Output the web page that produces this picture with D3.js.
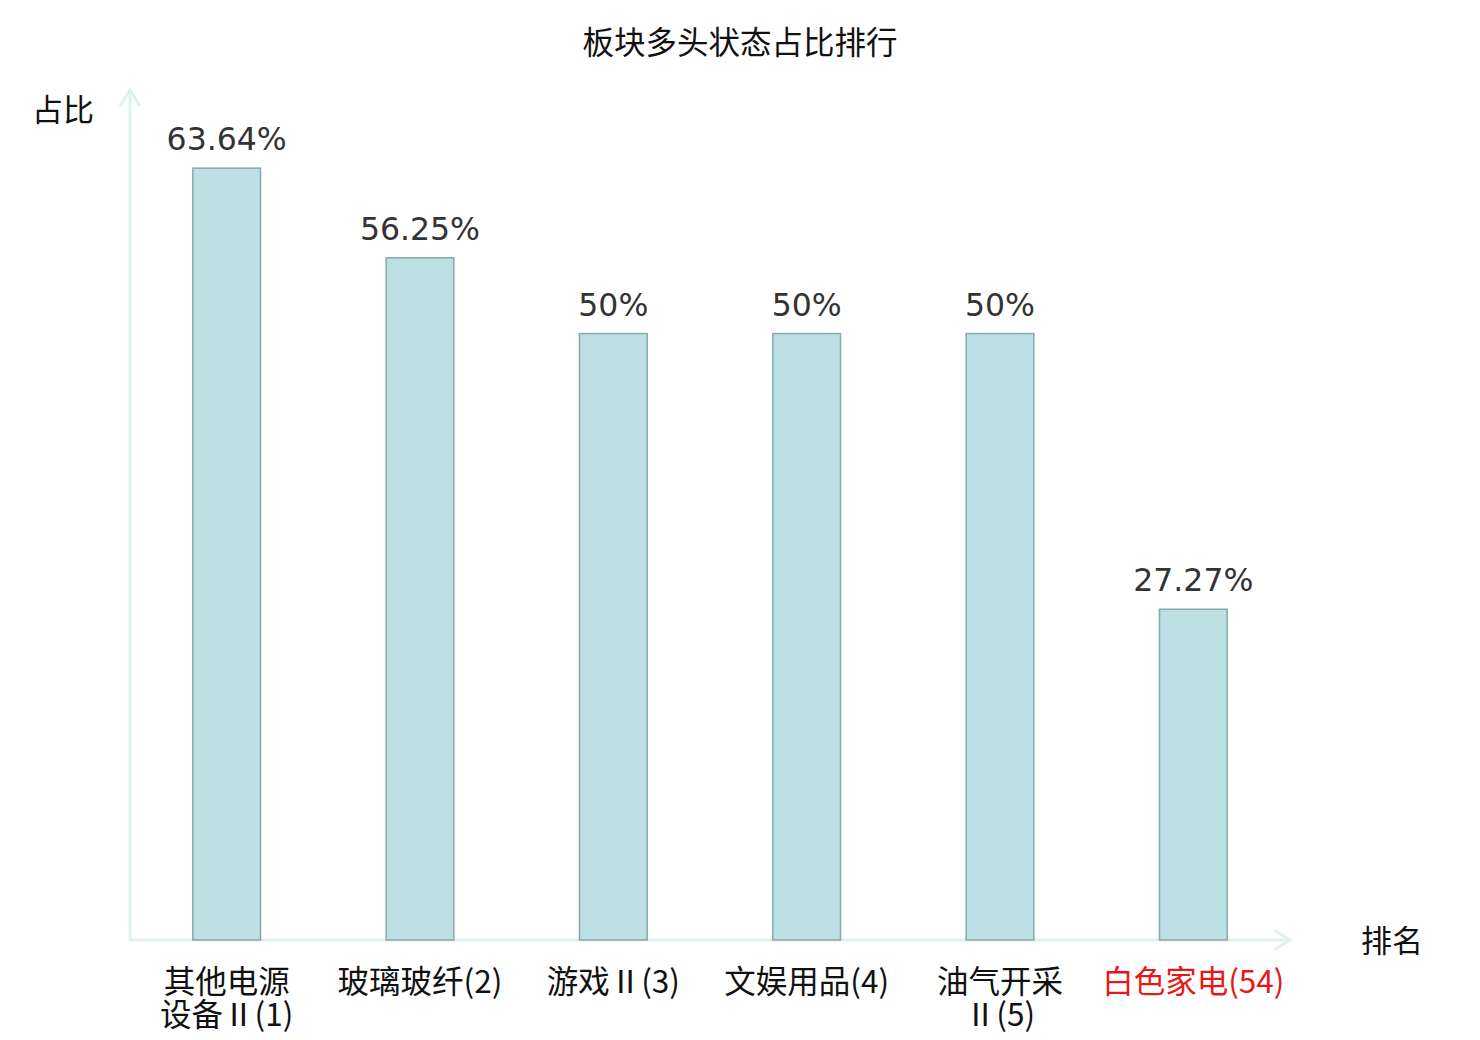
<!DOCTYPE html>
<html>
<head>
<meta charset="utf-8">
<script src="https://cdn.jsdelivr.net/npm/d3@7"></script>
<style>
  body { margin: 0; background: #fff; }
  svg text { font-family: "Noto Sans CJK SC", "DejaVu Sans", sans-serif; }
</style>
</head>
<body>
<svg id="chart"></svg>
<script>
var categories = ["其他电源\n设备Ⅱ(1)", "玻璃玻纤(2)", "游戏Ⅱ(3)", "文娱用品(4)", "油气开采\nⅡ(5)", "白色家电(54)"];
var values = [63.64, 56.25, 50, 50, 50, 27.27];
var valueLabels = ["63.64%", "56.25%", "50%", "50%", "50%", "27.27%"];
var highlight = [false, false, false, false, false, true];

var width = 1480, height = 1040;
var x0 = 130, x1 = 1290, yBase = 940, yTop = 91;
var axisColor = "#dff1ef";

var svg = d3.select("#chart").attr("width", width).attr("height", height);

var x = d3.scaleBand().domain(d3.range(categories.length)).range([x0, x1]).padding(0);
var y = d3.scaleLinear().domain([0, 70]).range([yBase, yTop]);
var barWidth = x.bandwidth() * 0.35;

// title
svg.append("text").attr("x", 740).attr("y", 54).attr("text-anchor", "middle")
    .style("font-size", "31.5px").attr("fill", "#111").text("板块多头状态占比排行");

// axes with arrows
svg.append("line").attr("x1", x0).attr("y1", yBase).attr("x2", x0).attr("y2", 90)
    .attr("stroke", axisColor).attr("stroke-width", 3);
svg.append("path").attr("d", "M" + (x0 - 10) + "," + 106 + "L" + x0 + "," + 90 + "L" + (x0 + 10) + "," + 106)
    .attr("fill", "none").attr("stroke", axisColor).attr("stroke-width", 3);
svg.append("line").attr("x1", x0).attr("y1", yBase).attr("x2", x1).attr("y2", yBase)
    .attr("stroke", axisColor).attr("stroke-width", 3);
svg.append("path").attr("d", "M" + (x1 - 16) + "," + (yBase - 10) + "L" + x1 + "," + yBase + "L" + (x1 - 16) + "," + (yBase + 10))
    .attr("fill", "none").attr("stroke", axisColor).attr("stroke-width", 3);

svg.append("text").attr("x", 63).attr("y", 121).attr("text-anchor", "middle")
    .style("font-size", "31px").attr("fill", "#111").text("占比");
svg.append("text").attr("x", 1392).attr("y", 952).attr("text-anchor", "middle")
    .style("font-size", "31px").attr("fill", "#111").text("排名");

// bars
svg.selectAll(".bar").data(values).enter().append("rect")
    .attr("class", "bar")
    .attr("x", function(d, i) { return x(i) + (x.bandwidth() - barWidth) / 2; })
    .attr("y", function(d) { return y(d); })
    .attr("width", barWidth)
    .attr("height", function(d) { return yBase - y(d); })
    .attr("fill", "#bce0e3")
    .attr("stroke", "#89a8a9")
    .attr("stroke-width", 1.5);

// value labels
svg.selectAll(".val").data(values).enter().append("text")
    .attr("class", "val")
    .attr("x", function(d, i) { return x(i) + x.bandwidth() / 2; })
    .attr("y", function(d) { return y(d) - 18; })
    .attr("text-anchor", "middle")
    .style("font-family", "'DejaVu Sans', sans-serif")
    .style("font-size", "31.5px")
    .attr("fill", "#333")
    .text(function(d, i) { return valueLabels[i]; });

// category labels
var cat = svg.selectAll(".cat").data(categories).enter().append("text")
    .attr("class", "cat")
    .attr("x", function(d, i) { return x(i) + x.bandwidth() / 2; })
    .attr("y", 993)
    .attr("text-anchor", "middle")
    .style("font-size", "31.5px")
    .attr("fill", function(d, i) { return highlight[i] ? "#e81818" : "#111"; });

cat.each(function(d, i) {
    var el = d3.select(this);
    d.split("\n").forEach(function(line, j) {
        el.append("tspan").attr("x", x(i) + x.bandwidth() / 2).attr("dy", j === 0 ? 0 : 33).text(line);
    });
});
</script>
</body>
</html>
